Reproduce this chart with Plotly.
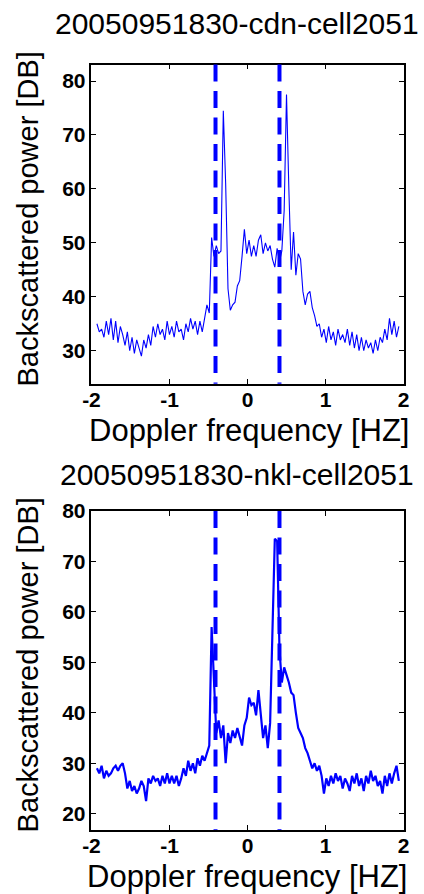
import numpy as np
import plotly.graph_objects as go

# Doppler frequency grid [Hz]
f_start, f_step = -1.93, 0.03

# Backscattered power [dB], cdn cell 2051
power_cdn = [
    35.0, 33.5, 34.0, 32.5, 35.5, 33.0, 36.0, 32.0, 35.5, 31.5,
    34.5, 33.0, 31.0, 33.5, 30.0, 32.5, 29.5, 32.0, 30.5, 29.0,
    32.0, 30.5, 33.0, 31.0, 34.5, 32.5, 35.0, 33.0, 34.0, 32.0,
    35.5, 33.0, 34.5, 32.5, 35.5, 33.5, 34.0, 32.0, 35.0, 33.5,
    36.0, 34.0, 35.5, 33.0, 35.5, 33.5, 36.0, 38.5, 37.0, 51.0,
    47.5, 49.5, 48.0, 48.5, 74.5, 61.0, 41.5, 37.5, 38.5, 39.0,
    42.0, 43.0, 47.5, 52.5, 48.0, 50.5, 47.5, 49.5, 47.5, 50.5,
    51.5, 48.0, 50.0, 48.5, 49.5, 47.0, 45.5, 49.0, 46.5, 48.5,
    56.0, 77.5, 60.0, 45.0, 52.0, 44.0, 48.0, 47.0, 41.0, 38.5,
    40.5, 41.0, 38.0, 36.5, 34.5, 35.0, 32.5, 34.0, 31.5, 34.5,
    32.0, 33.5, 31.0, 34.0, 32.0, 33.0, 31.5, 34.0, 31.0, 33.5,
    30.5, 33.0, 30.0, 32.5, 30.0, 32.0, 30.5, 31.5, 29.5, 32.0,
    30.0, 32.5, 31.5, 34.0, 32.0, 36.0, 33.0, 35.5, 32.5, 34.5,
]

# Backscattered power [dB], nkl cell 2051
power_nkl = [
    29.0, 28.0, 29.5, 27.0, 28.5, 27.5, 28.0, 29.0, 29.5, 28.5,
    29.5, 30.0, 28.0, 25.0, 26.5, 24.5, 25.5, 24.0, 25.0, 26.5,
    25.5, 22.5, 27.0, 26.0, 27.5, 26.5, 27.0, 25.5, 27.5, 26.0,
    28.0, 26.0, 27.5, 26.0, 27.5, 25.5, 27.0, 29.0, 27.5, 30.5,
    28.5, 30.0, 28.0, 31.0, 29.5, 31.5, 30.5, 32.0, 33.5, 57.0,
    46.0, 36.0, 38.5, 35.0, 37.5, 30.0, 36.0, 34.0, 36.5, 35.0,
    37.0, 35.5, 33.5, 37.5, 39.0, 43.0, 41.5, 42.0, 39.5, 44.5,
    40.0, 35.0, 37.5, 33.0, 38.0, 56.0, 74.5, 74.0, 52.5, 46.0,
    49.0, 47.5, 46.0, 44.0, 43.5, 40.0, 37.0, 36.0, 35.0, 33.0,
    32.0, 30.5, 29.0, 30.0, 28.5, 29.5, 27.5, 24.0, 27.0, 25.5,
    27.5, 26.0, 28.0, 26.5, 27.5, 25.0, 27.0, 26.0, 24.5, 27.5,
    26.0, 28.0, 25.5, 27.0, 24.5, 27.5, 26.0, 28.5, 26.5, 27.5,
    25.5, 26.5, 24.0, 27.5, 25.5, 28.0, 26.0, 28.0, 29.5, 26.5,
]

bragg_lines = [-0.41, 0.41]
titles = ["20050951830-cdn-cell2051", "20050951830-nkl-cell2051"]
xlabel = "Doppler frequency [HZ]"
ylabel = "Backscattered power [DB]"
x_ticks = [-2, -1, 0, 1, 2]
x_tick_labels = ["-2", "-1", "0", "1", "2"]
y_ticks_top = [30, 40, 50, 60, 70, 80]
y_ticks_bot = [20, 30, 40, 50, 60, 70, 80]

freq = f_start + f_step * np.arange(len(power_cdn))

W, H = 424, 894
FONT = "Liberation Sans, Arial, Helvetica, sans-serif"
BLUE = "#0000FF"

def bold(labels):
    return ["<b>%s</b>" % t for t in labels]

fig = go.Figure()
fig.add_trace(go.Scatter(x=freq, y=power_cdn, mode="lines",
                         line=dict(color=BLUE, width=1.1), xaxis="x", yaxis="y"))
fig.add_trace(go.Scatter(x=freq, y=power_nkl, mode="lines",
                         line=dict(color=BLUE, width=2.2), xaxis="x2", yaxis="y2"))

xdom = [85.5 / W, 409 / W]
ydom_top = [1 - 376.7 / H, 1 - 53.3 / H]
ydom_bot = [1 - 829 / H, 1 - 505.7 / H]

axis_common = dict(
    showline=True, linecolor="black", linewidth=1.5, mirror="ticks",
    ticks="inside", ticklen=5, tickwidth=1, tickcolor="black",
    showgrid=False, zeroline=False,
    tickfont=dict(family=FONT, size=21, color="black"),
)

fig.update_layout(
    width=W, height=H,
    margin=dict(l=0, r=0, t=0, b=0),
    paper_bgcolor="white", plot_bgcolor="white",
    showlegend=False,
    xaxis=dict(domain=xdom, anchor="y", range=[-2, 2], tickvals=x_ticks,
               ticktext=bold(x_tick_labels), ticklabelstandoff=-4, **axis_common),
    yaxis=dict(domain=ydom_top, anchor="x", range=[23.9, 83.05], tickvals=y_ticks_top,
               ticktext=bold([str(v) for v in y_ticks_top]),
               ticklabelstandoff=0, **axis_common),
    xaxis2=dict(domain=xdom, anchor="y2", range=[-2, 2], tickvals=x_ticks,
                ticktext=bold(x_tick_labels), ticklabelstandoff=-4, **axis_common),
    yaxis2=dict(domain=ydom_bot, anchor="x2", range=[16.8, 80], tickvals=y_ticks_bot,
                ticktext=bold([str(v) for v in y_ticks_bot]),
                ticklabelstandoff=0, **axis_common),
)

for xr, yr in (("x", "y domain"), ("x2", "y2 domain")):
    for b in bragg_lines:
        fig.add_shape(type="line", xref=xr, yref=yr, x0=b, x1=b, y0=1, y1=0,
                      line=dict(color=BLUE, width=4, dash="17px,9.5px"))

def ann(text, px, py, size, angle=0):
    fig.add_annotation(text=text, x=px / W, y=1 - py / H, xref="paper", yref="paper",
                       xanchor="center", yanchor="middle", showarrow=False,
                       textangle=angle,
                       font=dict(family=FONT, size=size, color="black"))

ann(titles[0], 236, 12, 30)
ann(titles[1], 236, 469, 30)
ann(xlabel, 248.5, 424, 31)
ann(xlabel, 247, 876, 31)
ann(ylabel, 20, 210, 29, -90)
ann(ylabel, 20, 662, 29, -90)

fig.write_html("out.html")
